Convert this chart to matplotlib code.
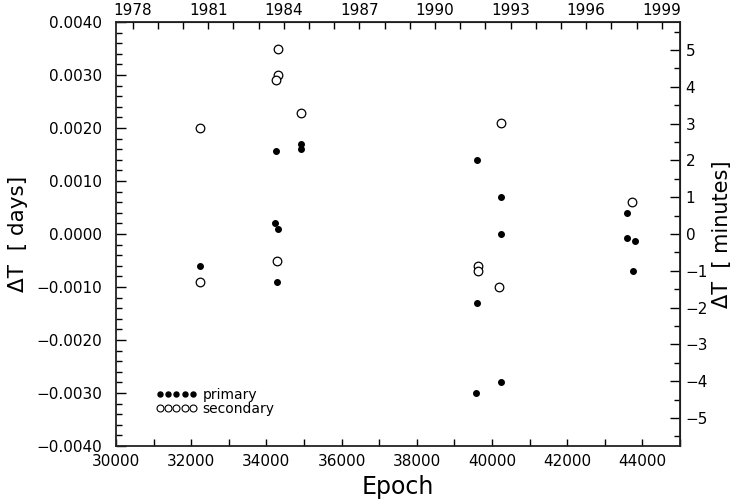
import numpy as np
import matplotlib
matplotlib.use("Agg")
import matplotlib.pyplot as plt
from matplotlib.lines import Line2D
from matplotlib.ticker import MultipleLocator, FuncFormatter

# -------------------------
# Data
# -------------------------

primary_epoch = [32240, 34255, 34240, 34300, 34275, 34910, 34910,
                 39590, 39590, 39580, 40245, 40250, 40248,
                 43590, 43600, 43790, 43740]
primary_dt = [-0.0006, 0.00157, 0.0002, 0.0001, -0.0009, 0.0017, 0.0016,
              0.0014, -0.0013, -0.0030, 0.0007, 0.0000, -0.0028,
              0.0004, -0.00007, -0.00013, -0.0007]

secondary_epoch = [32240, 32240, 34300, 34300, 34250, 34275, 34912,
                   40240, 39635, 39635, 40180, 43716]
secondary_dt = [0.0020, -0.0009, 0.0035, 0.0030, 0.0029, -0.0005, 0.00229,
                0.0021, -0.0006, -0.00069, -0.0010, 0.0006]

# epoch -> calendar year for the top axis
year0 = 1978
epoch_year0 = 30444
epochs_per_year = 670.0

# -------------------------
# Plot
# -------------------------

plt.rcParams["font.family"] = "DejaVu Sans"
plt.rcParams["axes.unicode_minus"] = True

fig = plt.figure(figsize=(7.35, 4.99), dpi=100)
ax = fig.add_axes([0.1578, 0.1062, 0.7674, 0.8497])

ax.plot(primary_epoch, primary_dt, "o", color="black",
        markersize=4.0, linestyle="none")
ax.plot(secondary_epoch, secondary_dt, "o", color="black",
        markerfacecolor="white", markeredgewidth=0.9,
        markersize=6.2, linestyle="none")

ax.set_xlim(30000, 45000)
ax.set_ylim(-0.004, 0.004)

ax.xaxis.set_major_locator(MultipleLocator(2000))
ax.xaxis.set_minor_locator(MultipleLocator(1000))
ax.yaxis.set_major_locator(MultipleLocator(0.001))
ax.yaxis.set_minor_locator(MultipleLocator(0.0002))
ax.yaxis.set_major_formatter(
    FuncFormatter(lambda v, p: f"{v:.4f}".replace("-", "\u2212")
                  if abs(v) > 1e-9 else "0.0000"))

ax.tick_params(axis="x", which="both", direction="in", top=False,
               length=5, width=1, labelsize=11, pad=6)
ax.tick_params(axis="y", which="major", direction="in", right=False,
               length=7, width=1, labelsize=11, pad=10)
ax.tick_params(axis="y", which="minor", direction="in", right=False,
               length=4, width=1)

for sp in ax.spines.values():
    sp.set_linewidth(1.3)
    sp.set_color("#222222")

ax.set_xlabel("Epoch", fontsize=17, labelpad=4)
ax.set_ylabel("\u0394T  [ days]", fontsize=15.5, labelpad=6)

# top axis: years
top = ax.secondary_xaxis(
    "top",
    functions=(lambda e: year0 + (np.asarray(e) - epoch_year0) / epochs_per_year,
               lambda y: epoch_year0 + (np.asarray(y) - year0) * epochs_per_year))
top.set_xticks(np.arange(1978, 2000, 3))
top.xaxis.set_minor_locator(MultipleLocator(1))
top.tick_params(which="both", direction="in", length=5, width=1,
                labelsize=11, pad=3)

# right axis: minutes
right = ax.secondary_yaxis(
    "right",
    functions=(lambda d: np.asarray(d) * 1440.0,
               lambda m: np.asarray(m) / 1440.0))
right.yaxis.set_major_locator(MultipleLocator(1))
right.yaxis.set_minor_locator(MultipleLocator(0.5))
right.tick_params(which="major", direction="in", length=7, width=1,
                  labelsize=11, pad=4)
right.tick_params(which="minor", direction="in", length=4, width=1)
right.set_ylabel("\u0394T  [ minutes]", fontsize=15, labelpad=3)

# legend with small markers, five of each
h_p = Line2D([], [], marker="o", color="black", markersize=3.6,
             linestyle="none")
h_s = Line2D([], [], marker="o", color="black", markerfacecolor="white",
             markeredgewidth=0.8, markersize=5.0, linestyle="none")
ax.legend([h_p, h_s], ["primary", "secondary"], numpoints=5,
          loc="lower left", bbox_to_anchor=(0.06, 0.057), frameon=False,
          handlelength=3.0, handletextpad=0.4, labelspacing=0.05,
          fontsize=10, borderaxespad=0)

plt.savefig("out.png", dpi=100)
